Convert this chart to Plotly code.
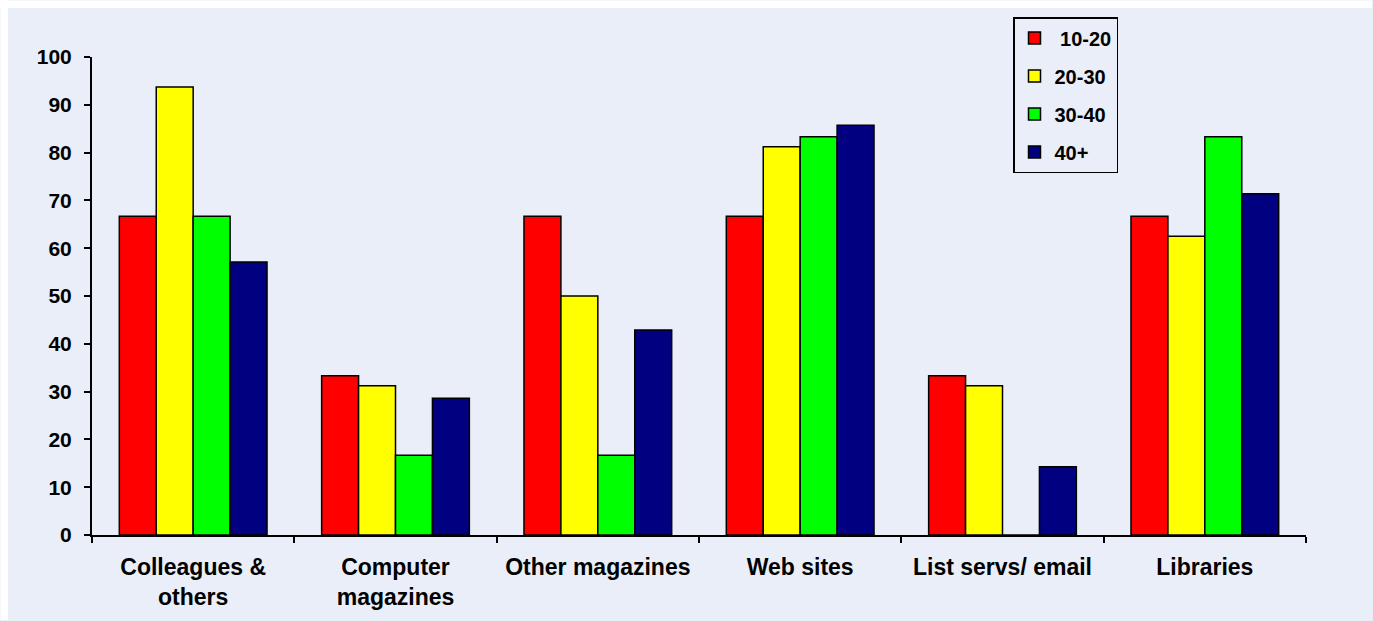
import plotly.graph_objects as go

categories = ["Colleagues &<br>others", "Computer<br>magazines", "Other magazines",
              "Web sites", "List servs/ email", "Libraries"]
series_names = ["\u00a010-20", "20-30", "30-40", "40+"]
v_10_20 = [66.7, 33.3, 66.7, 66.7, 33.3, 66.7]
v_20_30 = [93.75, 31.25, 50.0, 81.25, 31.25, 62.5]
v_30_40 = [66.7, 16.7, 16.7, 83.3, 0, 83.3]
v_40p = [57.1, 28.6, 42.9, 85.7, 14.3, 71.4]
colors = ["#FF0000", "#FFFF00", "#00FF00", "#000080"]
y_ticks = [0, 10, 20, 30, 40, 50, 60, 70, 80, 90, 100]

FONT = "Liberation Sans, Arial, sans-serif"
BG = "#EAEEF8"

fig = go.Figure()
for i, (name, vals) in enumerate(zip(series_names, [v_10_20, v_20_30, v_30_40, v_40p])):
    fig.add_trace(go.Bar(
        x=categories, y=vals, name=name, legendgroup=f"g{i}",
        marker=dict(color=colors[i], line=dict(color="#000000", width=1.5)),
    ))

W, H = 1373, 621
ml, mr, mt, mb = 92, 67, 57, 86
pw, ph = W - ml - mr, H - mt - mb

# white outer frame strips (top and left)
fig.add_shape(type="rect", xref="paper", yref="paper", layer="below",
              x0=-ml / pw, x1=(W - ml - 1) / pw,
              y0=1 + (mt - 8) / ph, y1=1 + (mt - 0.5) / ph,
              fillcolor="#FFFFFF", line=dict(width=0))
fig.add_shape(type="rect", xref="paper", yref="paper", layer="below",
              x0=(0.5 - ml) / pw, x1=(8 - ml) / pw,
              y0=-(mb - 1) / ph, y1=1 + mt / ph,
              fillcolor="#FFFFFF", line=dict(width=0))

fig.update_layout(
    width=W, height=H,
    margin=dict(l=ml, r=mr, t=mt, b=mb),
    paper_bgcolor=BG, plot_bgcolor=BG,
    barmode="group", bargap=0.27, bargroupgap=0,
    font=dict(family=FONT, size=20, color="#000000"),
    showlegend=True,
    legend=dict(
        x=(1013 - ml) / pw, y=1 + (mt - 17) / ph, xanchor="left", yanchor="top",
        bgcolor=BG, bordercolor="#000000", borderwidth=1.5,
        font=dict(family=FONT, size=20, color="#000000", weight="bold"),
        traceorder="grouped", tracegroupgap=9,
        itemwidth=30,
    ),
    xaxis=dict(
        type="category", showline=True, linecolor="#000000", linewidth=2,
        ticks="outside", tickson="boundaries", ticklen=6, tickwidth=2, tickcolor="#000000",
        tickfont=dict(family=FONT, size=23, color="#000000", weight="bold"),
        ticklabelstandoff=10,
        showgrid=False, zeroline=False,
    ),
    yaxis=dict(
        range=[0, 100], tickvals=y_ticks, showline=True, linecolor="#000000", linewidth=2,
        ticks="outside", ticklen=6, tickwidth=2, tickcolor="#000000",
        tickfont=dict(family=FONT, size=21, color="#000000", weight="bold"),
        ticklabelstandoff=8,
        showgrid=False, zeroline=False,
    ),
)

fig.write_html("out.html")
